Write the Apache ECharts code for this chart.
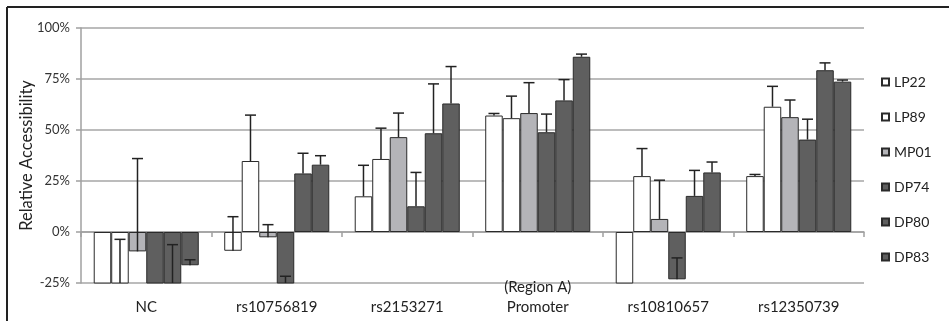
<!DOCTYPE html>
<html>
<head>
<meta charset="utf-8">
<script src="https://cdn.jsdelivr.net/npm/echarts@6/dist/echarts.min.js"></script>
<style>
  html, body { margin: 0; padding: 0; background: #fff; }
  #chart { width: 949px; height: 321px; }
</style>
</head>
<body>
<div id="chart"></div>
<script>
var categories = ['NC', 'rs10756819', 'rs2153271', '(Region A)\nPromoter', 'rs10810657', 'rs12350739'];
var seriesNames = ['LP22', 'LP89', 'MP01', 'DP74', 'DP80', 'DP83'];

// relative accessibility (fraction), per line
var lp22 = [-0.40, -0.092, 0.175, 0.571, -0.40, 0.274];
var lp89 = [-0.35, 0.348, 0.358, 0.558, 0.274, 0.614];
var mp01 = [-0.095, -0.026, 0.465, 0.583, 0.064, 0.563];
var dp74 = [-0.45, -0.30, 0.126, 0.489, -0.232, 0.453];
var dp80 = [-0.30, 0.287, 0.484, 0.645, 0.177, 0.793];
var dp83 = [-0.163, 0.330, 0.630, 0.859, 0.292, 0.737];

// plus error bars
var lp22Err = [null, 0.167, 0.152, 0.010, null, 0.008];
var lp89Err = [0.314, 0.225, 0.151, 0.108, 0.135, 0.100];
var mp01Err = [0.455, 0.062, 0.118, 0.149, 0.190, 0.084];
var dp74Err = [null, 0.083, 0.166, 0.089, 0.105, 0.100];
var dp80Err = [0.238, 0.099, 0.242, 0.102, 0.125, 0.036];
var dp83Err = [0.027, 0.044, 0.181, 0.013, 0.051, 0.008];

var yTicks = [-0.25, 0, 0.25, 0.5, 0.75, 1];

var values = [lp22, lp89, mp01, dp74, dp80, dp83];
var errors = [lp22Err, lp89Err, mp01Err, dp74Err, dp80Err, dp83Err];
var colors = ['#ffffff', '#ffffff', '#b4b4b8', '#5f5f5f', '#5f5f5f', '#5f5f5f'];

var catGap = 0.195;
var yMin = yTicks[0];
var font = 'Lato, "Open Sans", sans-serif';

var errData = [];
errors.forEach(function (errs, s) {
  errs.forEach(function (e, c) {
    if (e != null) errData.push([c, s, values[s][c], values[s][c] + e]);
  });
});

var chart = echarts.init(document.getElementById('chart'));

var series = seriesNames.map(function (name, i) {
  return {
    name: name,
    type: 'bar',
    data: values[i],
    barGap: 0,
    barCategoryGap: (catGap * 100) + '%',
    clip: true,
    itemStyle: { color: colors[i], borderColor: '#2a2a2a', borderWidth: 1 }
  };
});

series.push({
  type: 'custom',
  z: 5,
  silent: true,
  data: errData,
  encode: { x: 0, y: [2, 3] },
  renderItem: function (params, api) {
    var c = api.value(0), s = api.value(1);
    var lo = Math.max(api.value(2), yMin);
    var hi = api.value(3);
    var band = api.size([1, 0])[0];
    var barW = band * (1 - catGap) / seriesNames.length;
    var cx = api.coord([c, 0])[0] - band * (1 - catGap) / 2 + (s + 0.5) * barW;
    var y0 = api.coord([c, lo])[1];
    var y1 = api.coord([c, hi])[1];
    var st = { stroke: '#222', lineWidth: 1.5 };
    return {
      type: 'group',
      children: [
        { type: 'line', shape: { x1: cx, y1: y0, x2: cx, y2: y1 }, style: st },
        { type: 'line', shape: { x1: cx - 5.5, y1: y1, x2: cx + 5.5, y2: y1 }, style: st }
      ]
    };
  }
});

var option = {
  animation: false,
  backgroundColor: '#fff',
  textStyle: { fontFamily: font },
  grid: { left: 81, right: 85, top: 28, bottom: 38, containLabel: false, outerBoundsMode: 'none' },
  legend: {
    data: seriesNames,
    orient: 'vertical',
    left: 876,
    top: 70,
    itemWidth: 7,
    itemHeight: 7,
    itemGap: 21,
    icon: 'rect',
    textStyle: { fontSize: 14, color: '#222', fontFamily: font }
  },
  xAxis: {
    type: 'category',
    data: categories,
    axisLine: { onZero: true, lineStyle: { color: '#a0a0a0', width: 1.5 } },
    axisTick: { show: true, length: 5, alignWithLabel: false, lineStyle: { color: '#a0a0a0', width: 1.5 } },
    axisLabel: {
      margin: 34,
      verticalAlign: 'bottom',
      lineHeight: 20,
      fontSize: 15,
      color: '#222',
      fontFamily: font
    },
    splitLine: { show: false }
  },
  yAxis: {
    type: 'value',
    min: yMin,
    max: yTicks[yTicks.length - 1],
    interval: 0.25,
    name: 'Relative Accessibility',
    nameLocation: 'middle',
    nameGap: 46,
    nameMoveOverlap: false,
    nameTextStyle: { fontSize: 16.5, color: '#222', fontFamily: font },
    axisLine: { show: true, lineStyle: { color: '#a0a0a0', width: 1.5 } },
    axisTick: { show: true, length: 5, lineStyle: { color: '#a0a0a0', width: 1.5 } },
    axisLabel: {
      margin: 11,
      fontSize: 13,
      color: '#333',
      fontFamily: font,
      formatter: function (v) { return Math.round(v * 100) + '%'; }
    },
    splitLine: { lineStyle: { color: '#a6a6a6', width: 1.5 } }
  },
  graphic: [
    { type: 'line', shape: { x1: 7, y1: 7, x2: 949, y2: 7 }, style: { stroke: '#222', lineWidth: 2 } },
    { type: 'line', shape: { x1: 7, y1: 7, x2: 7, y2: 321 }, style: { stroke: '#222', lineWidth: 2 } }
  ],
  series: series
};

option && chart.setOption(option);
</script>
</body>
</html>
